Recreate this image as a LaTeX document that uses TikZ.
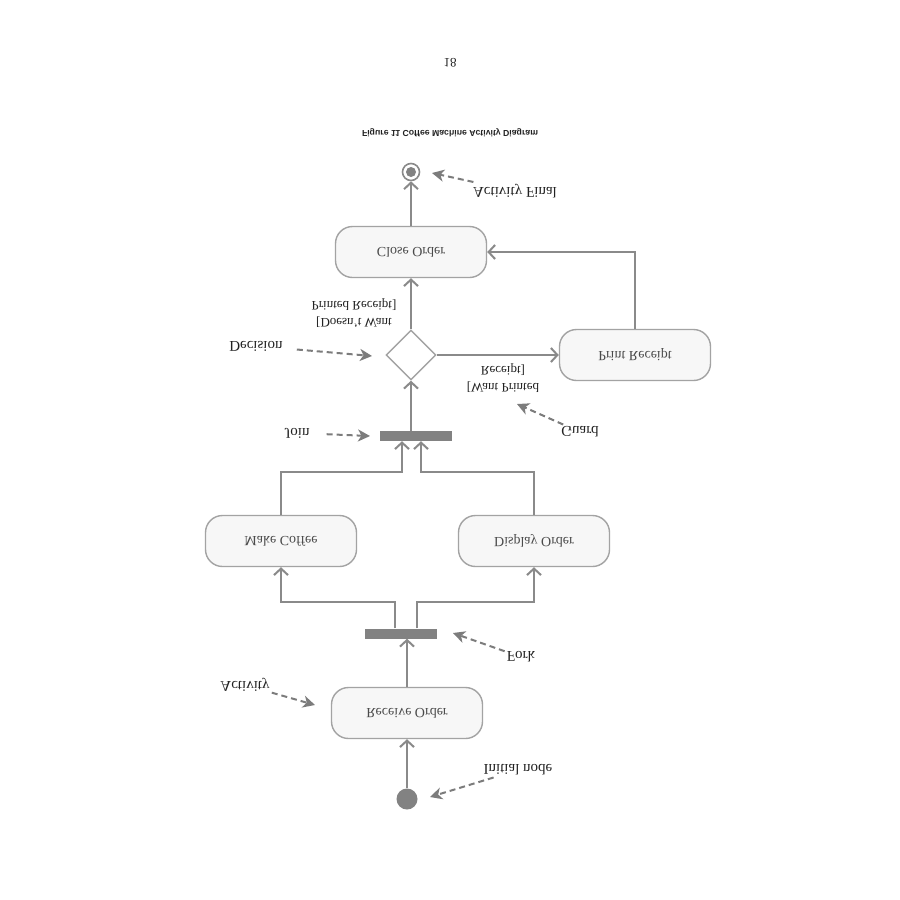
\documentclass[tikz,border=0pt]{standalone}
\usepackage{fontspec}
\setmainfont{Liberation Serif}
\setsansfont{Liberation Sans}
\usepackage{graphicx}
\usetikzlibrary{arrows.meta,shapes.geometric}
\definecolor{linec}{HTML}{8A8A8A}
\definecolor{boxc}{HTML}{A3A3A3}
\definecolor{boxf}{HTML}{F7F7F7}
\definecolor{barc}{HTML}{828282}
\definecolor{annc}{HTML}{7C7C7C}
\definecolor{txtg}{HTML}{4A4A4A}
\definecolor{txtd}{HTML}{222222}
\newcommand\fl[1]{\scalebox{1}[-1]{#1}}
\tikzset{
  act/.style={rectangle, rounded corners=17pt, draw=boxc, fill=boxf, line width=1.4pt,
    minimum width=151pt, minimum height=51pt, inner sep=0pt,
    font=\fontsize{14}{16}\selectfont, text=txtg},
  bar/.style={rectangle, fill=barc, minimum width=72pt, minimum height=10pt, inner sep=0pt},
  flow/.style={draw=linec, line width=2pt, -{Straight Barb[length=6.5pt,width=14pt]}},
  ann/.style={draw=annc, line width=2pt, dash pattern=on 6pt off 4pt,
    -{Stealth[length=12pt,width=12pt,inset=3.5pt]}},
  lbl/.style={font=\fontsize{15}{17}\selectfont, text=txtd, inner sep=2pt},
  grd/.style={font=\fontsize{13}{17}\selectfont, text=txtd, inner sep=1pt},
}
\begin{document}
\begin{tikzpicture}[x=1pt,y=-1pt]
\fill[white] (0,0) rectangle (900,900);
\useasboundingbox (0,0) rectangle (900,900);

% page number and caption
\node[font=\fontsize{13}{15}\selectfont, text=txtd] (pg) at (450,63) {\fl{18}};
\node[font=\sffamily\bfseries\fontsize{8.7}{10}\selectfont, text=txtd] (cap) at (450,133) {\fl{Figure 11 Coffee Machine Activity Diagram}};

% nodes
\node[circle, fill=barc, minimum size=21pt, inner sep=0pt] (init) at (407,799) {};
\node[act] (recv) at (407,713) {\fl{Receive Order}};
\node[bar] (fork) at (401,633.5) {};
\node[act] (make) at (281,541) {\fl{Make Coffee}};
\node[act] (disp) at (534,541) {\fl{Display Order}};
\node[bar] (join) at (416,436) {};
\node[diamond, draw=boxc, fill=white, line width=1.4pt, minimum width=50pt, minimum height=50pt, inner sep=0pt] (dec) at (411,355) {};
\node[act] (prt) at (635,355) {\fl{Print Receipt}};
\node[act] (close) at (411,252) {\fl{Close Order}};
\node[circle, draw=linec, line width=1.6pt, fill=white, minimum size=17pt, inner sep=0pt] (final) at (411,172) {};
\fill[barc] (final.center) circle (5pt);

% flows
\draw[flow] (init) -- (recv);
\draw[flow] (recv.north) -- (recv.north |- fork.south);
\draw[flow] ([xshift=-6pt]fork.north) -- ++(0,-26) -| (make.south);
\draw[flow] ([xshift=16pt]fork.north) -- ++(0,-26) -| (disp.south);
\draw[flow] (make.north) -- ++(0,-43) -| ([xshift=-14pt]join.south);
\draw[flow] (disp.north) -- ++(0,-43) -| ([xshift=5pt]join.south);
\draw[flow] (dec.south |- join.north) -- (dec.south);
\draw[flow] (dec.north) -- (close.south);
\draw[flow] (dec.east) -- (prt.west);
\draw[flow] (prt.north) |- (close.east);
\draw[flow] (close.north) -- (final);

% guards
\node[grd] (gWant) at (503,378) {\fl{\begin{tabular}{@{}c@{}}[Want Printed\\Receipt]\end{tabular}}};
\node[grd] (gNo) at (354,313) {\fl{\begin{tabular}{@{}c@{}}[Doesn't Want\\Printed Receipt]\end{tabular}}};

% annotation labels
\node[lbl] (lFinal) at (515,191) {\fl{Activity Final}};
\node[lbl] (lDec) at (256,346) {\fl{Decision}};
\node[lbl] (lJoin) at (297,433) {\fl{Join}};
\node[lbl] (lGuard) at (580,432) {\fl{Guard}};
\node[lbl] (lFork) at (521,657) {\fl{Fork}};
\node[lbl] (lAct) at (245,685) {\fl{Activity}};
\node[lbl] (lInit) at (518,770) {\fl{Initial node}};

\coordinate (tFinal) at (432,173);
\coordinate (tDec) at (372,356);
\coordinate (tJoin) at (370,436);
\coordinate (tGuard) at (517,404);
\coordinate (tFork) at (453,633);
\coordinate (tAct) at (315,705);
\coordinate (tInit) at (430,797);

\draw[ann] (lFinal) -- (tFinal);
\draw[ann, shorten <=12pt] (lDec) -- (tDec);
\draw[ann, shorten <=15pt] (lJoin) -- (tJoin);
\draw[ann] (lGuard) -- (tGuard);
\draw[ann] (lFork) -- (tFork);
\draw[ann] (lAct) -- (tAct);
\draw[ann] (lInit) -- (tInit);
\end{tikzpicture}
\end{document}
